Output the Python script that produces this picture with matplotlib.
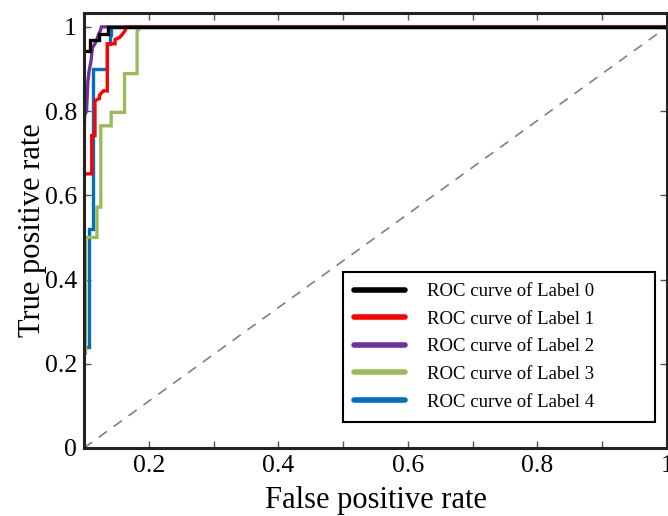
import matplotlib
matplotlib.use("Agg")
import matplotlib.pyplot as plt

plt.rcParams['font.family'] = ['Liberation Serif', 'DejaVu Serif']

# ROC points (fpr, tpr)
fpr0 = [0.100, 0.110, 0.110, 0.123, 0.123, 0.137, 0.137, 1.0]
tpr0 = [0.943, 0.943, 0.969, 0.969, 0.984, 0.984, 1.0, 1.0]

fpr1 = [0.100, 0.112, 0.112, 0.117, 0.117, 0.124, 0.124, 0.130, 0.136, 0.136,
        0.148, 0.148, 0.155, 0.158, 0.163, 0.166, 1.0]
tpr1 = [0.651, 0.651, 0.742, 0.742, 0.825, 0.830, 0.838, 0.848, 0.848, 0.960,
        0.960, 0.970, 0.975, 0.980, 0.990, 1.0, 1.0]

fpr2 = [0.100, 0.101, 0.104, 0.106, 0.108, 0.111, 0.113, 0.117, 0.120, 0.122,
        0.125, 0.127, 1.0]
tpr2 = [0.725, 0.790, 0.800, 0.870, 0.896, 0.920, 0.950, 0.960, 0.970, 0.980,
        0.990, 1.0, 1.0]

fpr3 = [0.1025, 0.1025, 0.120, 0.120, 0.126, 0.126, 0.142, 0.142, 0.1626, 0.1626,
        0.182, 0.182, 0.188, 1.0]
tpr3 = [0.225, 0.500, 0.500, 0.572, 0.572, 0.765, 0.765, 0.797, 0.797, 0.889,
        0.889, 0.990, 1.0, 1.0]

fpr4 = [0.100, 0.108, 0.108, 0.114, 0.114, 0.135, 0.135, 0.140, 0.140, 0.142,
        0.142, 1.0]
tpr4 = [0.240, 0.240, 0.521, 0.521, 0.900, 0.900, 0.960, 0.960, 0.980, 0.980,
        1.0, 1.0]

curves = [(fpr0, tpr0), (fpr1, tpr1), (fpr2, tpr2), (fpr3, tpr3), (fpr4, tpr4)]
labels = ["ROC curve of Label 0", "ROC curve of Label 1", "ROC curve of Label 2",
          "ROC curve of Label 3", "ROC curve of Label 4"]
colors = ["#000000", "#ff0000", "#7030a0", "#9bbb59", "#0070c0"]

fig = plt.figure(figsize=(6.68, 5.16), dpi=100)
ax = fig.add_axes([0.1257, 0.1318, 0.8728, 0.843])

ax.plot([0.1, 1.0], [0.0, 1.0], color="#808080", lw=1.2, ls=(0, (6, 5)))

# draw black last so it sits on top
order = [4, 3, 2, 1, 0]
handles = {}
for i in order:
    fx, ty = curves[i]
    h, = ax.plot(fx, ty, color=colors[i], lw=2.4, label=labels[i],
                 solid_joinstyle='miter')
    handles[i] = h

ax.set_xlim(0.1, 1.0)
ax.set_ylim(0, 1.033)

ax.set_xticks([0.2, 0.4, 0.6, 0.8, 1.0])
ax.set_xticklabels(["0.2", "0.4", "0.6", "0.8", "1"])
ax.set_xticks([0.3, 0.5, 0.7, 0.9], minor=True)
ax.set_yticks([0, 0.2, 0.4, 0.6, 0.8, 1.0])
ax.set_yticklabels(["0", "0.2", "0.4", "0.6", "0.8", "1"])

ax.tick_params(which='both', direction='in', top=True, right=True,
               length=5, width=1, color="#555555", labelsize=18.5, pad=5)
for s in ax.spines.values():
    s.set_linewidth(2.2)
    s.set_color("#222222")

ax.set_xlabel("False positive rate", fontsize=22, labelpad=6.5)
ax.set_ylabel("True positive rate", fontsize=22, labelpad=-1.5)

leg = ax.legend([handles[i] for i in range(5)], labels, loc='lower left',
                bbox_to_anchor=(0.444, 0.06, 0.535, 0.35), mode='expand',
                fontsize=13.5, fancybox=False,
                edgecolor='black', framealpha=1, handlelength=2.7,
                handletextpad=1.2, labelspacing=0.56, borderpad=0.6,
                borderaxespad=0)
leg.get_frame().set_linewidth(1.5)
for line in leg.get_lines():
    line.set_linewidth(4)
    line.set_solid_capstyle('round')

fig.savefig("out.png", dpi=100)
